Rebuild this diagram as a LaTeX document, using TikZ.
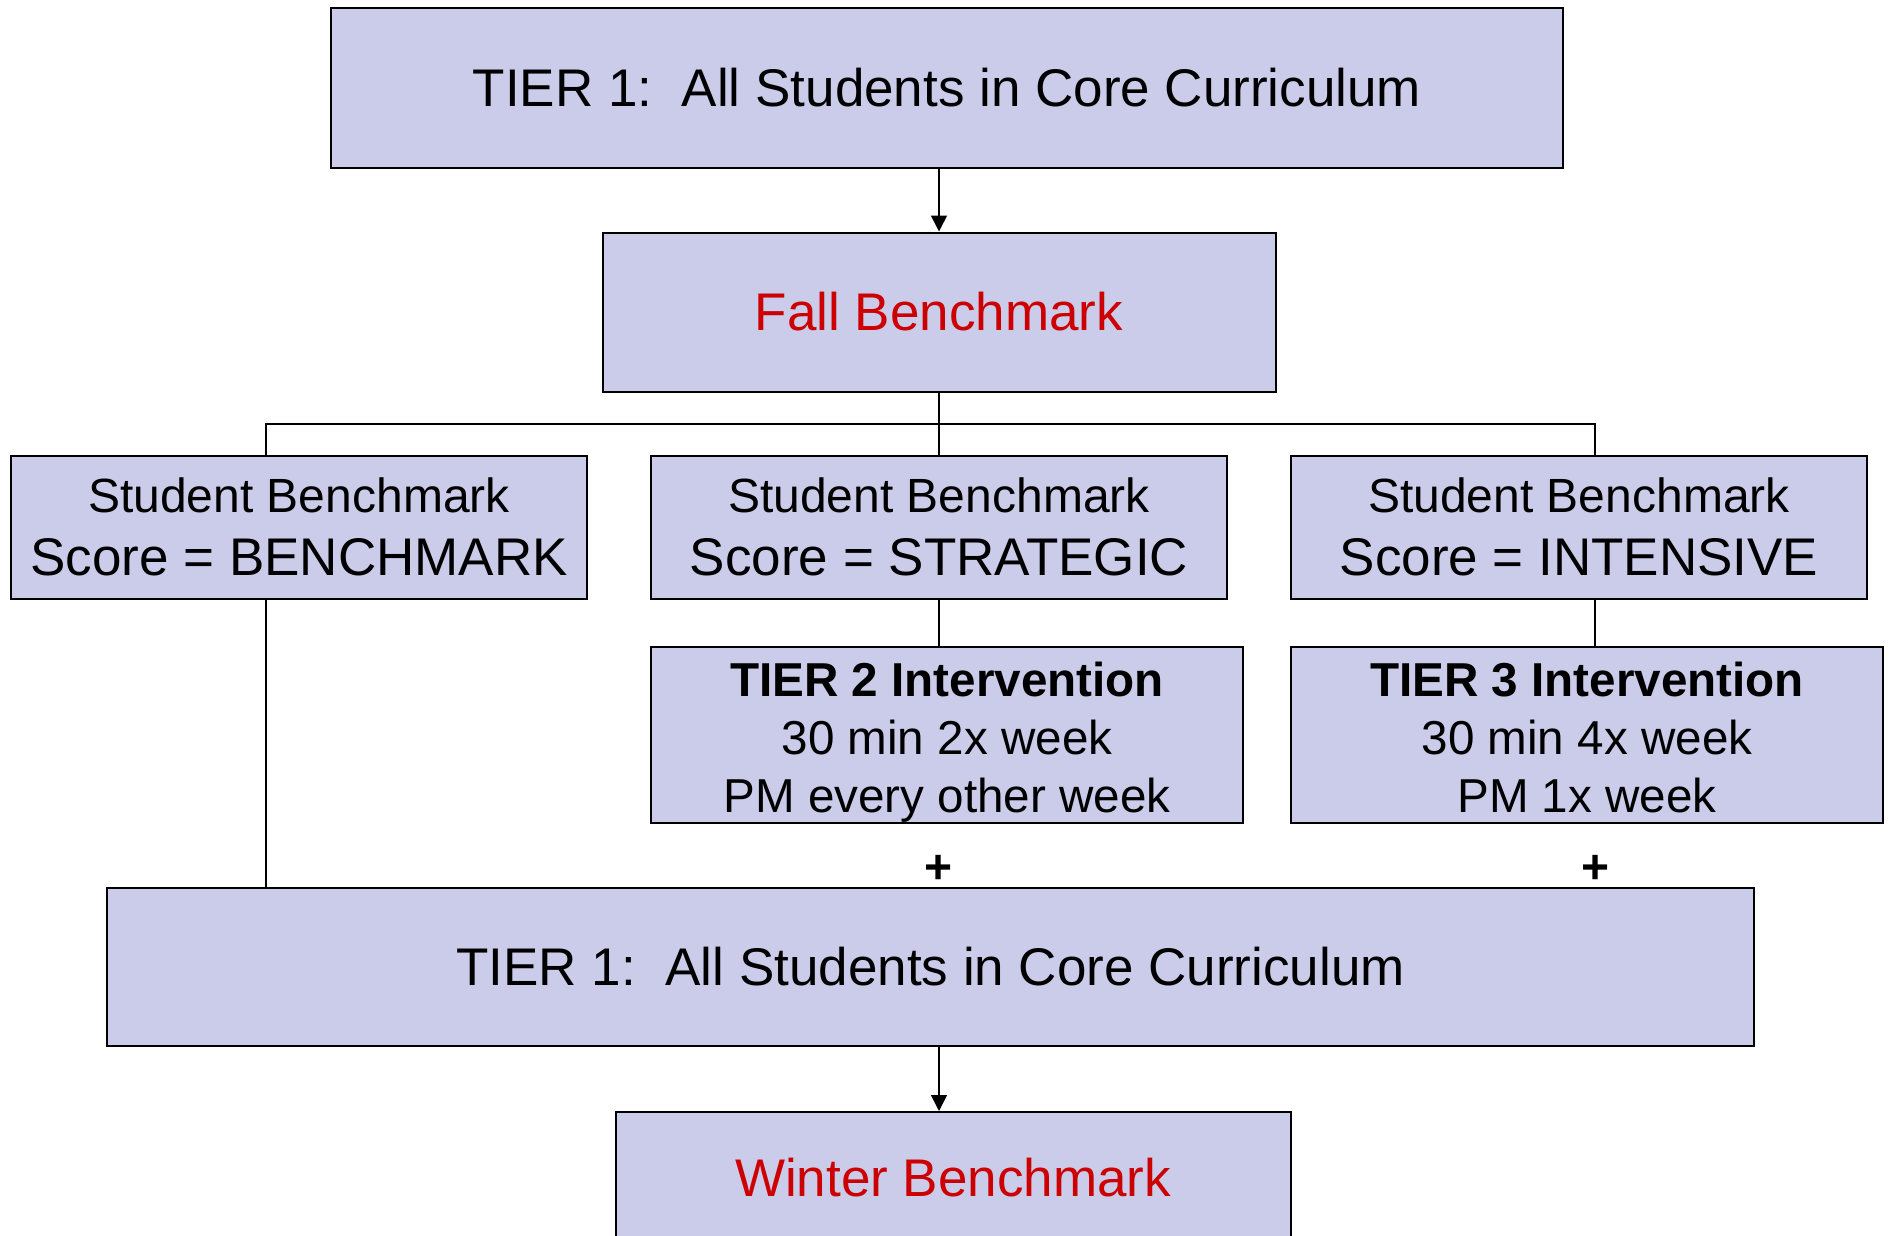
\documentclass[tikz,border=0pt]{standalone}
\usepackage{fontspec}
\setmainfont{Liberation Sans}
\usetikzlibrary{arrows.meta}
\definecolor{boxfill}{RGB}{203,203,234}
\definecolor{benchred}{RGB}{204,0,0}
\tikzset{
  tierbox/.style={draw, line width=1pt, fill=boxfill, inner sep=0pt, align=center},
  bigtext/.style={font=\fontsize{26.5}{32}\selectfont},
  scoretext/.style={font=\fontsize{24}{31.5}\selectfont},
  steptext/.style={font=\fontsize{23.8}{29}\selectfont},
  link/.style={line width=0.8pt},
  linkarrow/.style={link, -{Triangle[length=8pt,width=8pt]}}
}
\begin{document}
\begin{tikzpicture}[x=0.5pt, y=-0.5pt]
	\useasboundingbox (0,0) rectangle (1890,1236);

	\node[tierbox, bigtext, minimum width=616pt, minimum height=79.5pt] (tierA) at (947,88) {TIER 1:\ \ All Students in Core Curriculum};
	\node[tierbox, bigtext, text=benchred, minimum width=336.5pt, minimum height=79.5pt] (fall) at (939,312) {Fall Benchmark};

	\node[tierbox, scoretext, minimum width=288pt, minimum height=71.5pt] (scoreA) at (299,527) {Student Benchmark\\{\fontsize{26.5}{31.5}\selectfont Score = BENCHMARK}};
	\node[tierbox, scoretext, minimum width=288pt, minimum height=71.5pt] (scoreB) at (939,527) {Student Benchmark\\{\fontsize{26.5}{31.5}\selectfont Score = STRATEGIC}};
	\node[tierbox, scoretext, minimum width=288pt, minimum height=71.5pt] (scoreC) at (1579,527) {Student Benchmark\\{\fontsize{26.5}{31.5}\selectfont Score = INTENSIVE}};

	\node[tierbox, steptext, minimum width=296pt, minimum height=88pt] (tierB) at (947,735) {\rule{0pt}{24pt}\textbf{TIER 2 Intervention}\\30 min 2x week\\PM every other week};
	\node[tierbox, steptext, minimum width=296pt, minimum height=88pt] (tierC) at (1587,735) {\rule{0pt}{24pt}\textbf{TIER 3 Intervention}\\30 min 4x week\\PM 1x week\vphantom{y}};

	\node[tierbox, bigtext, minimum width=823.5pt, minimum height=79pt] (tierD) at (930.6,967) {TIER 1:\ \ All Students in Core Curriculum};
	\node[tierbox, bigtext, text=benchred, minimum width=337.5pt, minimum height=66pt, anchor=north] (winter) at (953,1111) {Winter Benchmark};

	\coordinate (splitL) at (266,424);
	\coordinate (splitR) at (1595,424);

	\draw[linkarrow] (tierA.south -| fall.north) -- (fall.north);
	\draw[link] (fall.south) -- (fall.south |- splitL);
	\draw[link] (splitL |- scoreA.north) -- (splitL) -- (splitR) -- (splitR |- scoreC.north);
	\draw[link] (fall.south |- splitL) -- (scoreB.north);
	\draw[link] (scoreB.south) -- (scoreB.south |- tierB.north);
	\draw[link] (splitR |- scoreC.south) -- (splitR |- tierC.north);
	\draw[link] (splitL |- scoreA.south) -- (splitL |- tierD.north);
	\draw[linkarrow] (fall.south |- tierD.south) -- (fall.south |- winter.north);

	\node[font=\fontsize{24}{24}\selectfont\bfseries] (plusB) at (939,869) {+};
	\node[font=\fontsize{24}{24}\selectfont\bfseries] (plusC) at (1595,869) {+};
\end{tikzpicture}
\end{document}
